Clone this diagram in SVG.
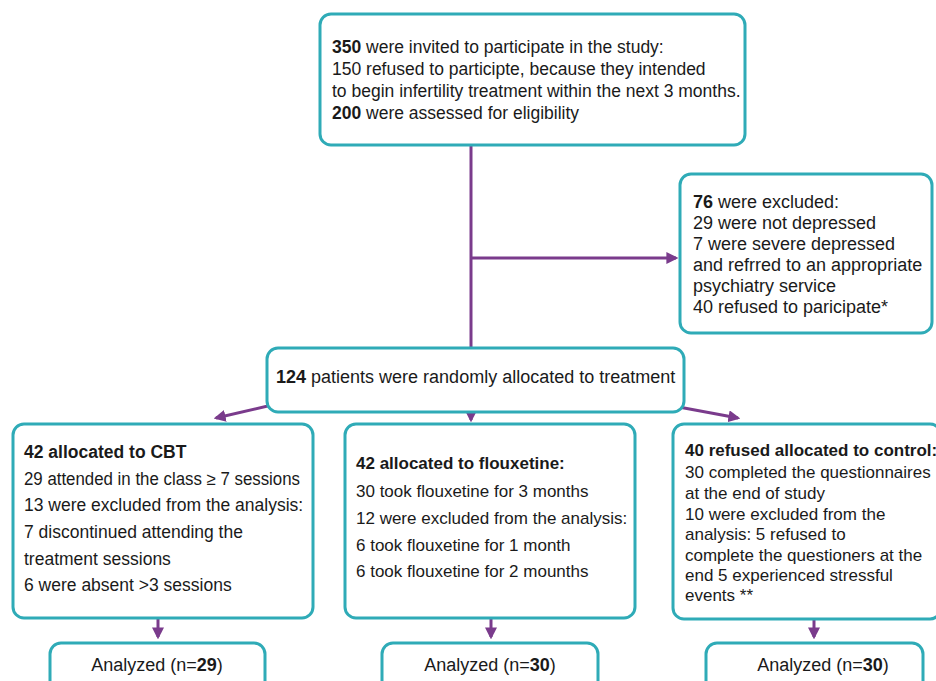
<svg xmlns="http://www.w3.org/2000/svg" width="936" height="681" viewBox="0 0 936 681">
<defs>
<style>
.box{fill:#ffffff;stroke:#2fabb7;stroke-width:3}
.t{font-family:"Liberation Sans",Arial,sans-serif;font-size:17.5px;fill:#1a1a1a}
.s18{font-size:18px}
.s17{font-size:17px}
.b{font-weight:bold}
.c{fill:none;stroke:#7a3b8c;stroke-width:3}
</style>
<marker id="ah" viewBox="0 0 10 10" refX="8" refY="5" markerWidth="4" markerHeight="4" orient="auto" markerUnits="strokeWidth">
<path d="M0,0 L10,5 L0,10 z" fill="#7a3b8c"/>
</marker>
</defs>
<rect width="936" height="681" fill="#ffffff"/>
<g id="connectors">
<path class="c" d="M471,145 V348"/>
<path class="c" d="M471,258 H676" marker-end="url(#ah)"/>
<path class="c" d="M272,405 L216,418" marker-end="url(#ah)"/>
<path class="c" d="M471,412 V420" marker-end="url(#ah)"/>
<path class="c" d="M668,405 L738,418" marker-end="url(#ah)"/>
<path class="c" d="M158,618 V637" marker-end="url(#ah)"/>
<path class="c" d="M491,618 V637" marker-end="url(#ah)"/>
<path class="c" d="M814,619 V637" marker-end="url(#ah)"/>
</g>
<g id="n_invited">
<rect class="box" x="320" y="14" width="425" height="131" rx="11"/>
<text class="t" x="332" y="53"><tspan class="b">350</tspan> were invited to participate in the study:</text>
<text class="t" x="332" y="75">150 refused to participte, because they intended</text>
<text class="t" x="332" y="97">to begin infertility treatment within the next 3 months.</text>
<text class="t" x="332" y="119"><tspan class="b">200</tspan> were assessed for eligibility</text>
</g>
<g id="n_excluded">
<rect class="box" x="680" y="174" width="252" height="159" rx="11"/>
<text class="t s18" x="693" y="208"><tspan class="b">76</tspan> were excluded:</text>
<text class="t s18" x="693" y="229">29 were not depressed</text>
<text class="t s18" x="693" y="250">7 were severe depressed</text>
<text class="t s18" x="693" y="271">and refrred to an appropriate</text>
<text class="t s18" x="693" y="292">psychiatry service</text>
<text class="t s18" x="693" y="313">40 refused to paricipate*</text>
</g>
<g id="n_random">
<rect class="box" x="267" y="348" width="417" height="64" rx="11"/>
<text class="t s18" x="276" y="383"><tspan class="b">124</tspan> patients were randomly allocated to treatment</text>
</g>
<g id="n_cbt">
<rect class="box" x="13" y="424" width="300" height="194" rx="11"/>
<text class="t b" x="24" y="458">42 allocated to CBT</text>
<text class="t" x="24" y="485" textLength="276" lengthAdjust="spacingAndGlyphs">29 attended in the class ≥ 7 sessions</text>
<text class="t" x="24" y="511">13 were excluded from the analysis:</text>
<text class="t" x="24" y="538">7 discontinued attending the</text>
<text class="t" x="24" y="565">treatment sessions</text>
<text class="t" x="24" y="591">6 were absent &gt;3 sessions</text>
</g>
<g id="n_flx">
<rect class="box" x="345" y="424" width="290" height="194" rx="11"/>
<text class="t s17 b" x="356" y="469">42 allocated to flouxetine:</text>
<text class="t s17" x="356" y="497">30 took flouxetine for 3 months</text>
<text class="t s17" x="356" y="524">12 were excluded from the analysis:</text>
<text class="t s17" x="356" y="551">6 took flouxetine for 1 month</text>
<text class="t s17" x="356" y="577">6 took flouxetine for 2 mounths</text>
</g>
<g id="n_ctrl">
<rect class="box" x="673" y="424" width="268" height="195" rx="11"/>
<text class="t s17 b" x="685" y="456">40 refused allocated to control:</text>
<text class="t s17" x="685" y="478">30 completed the questionnaires</text>
<text class="t s17" x="685" y="499">at the end of study</text>
<text class="t s17" x="685" y="520">10 were excluded from the</text>
<text class="t s17" x="685" y="540">analysis: 5 refused to</text>
<text class="t s17" x="685" y="561">complete the questioners at the</text>
<text class="t s17" x="685" y="581">end 5 experienced stressful</text>
<text class="t s17" x="685" y="601">events **</text>
</g>
<g id="n_an1">
<rect class="box" x="50" y="643" width="215" height="50" rx="11"/>
<text class="t s18" x="157" y="671" text-anchor="middle">Analyzed (n=<tspan class="b">29</tspan>)</text>
</g>
<g id="n_an2">
<rect class="box" x="382" y="643" width="216" height="50" rx="11"/>
<text class="t s18" x="490" y="671" text-anchor="middle">Analyzed (n=<tspan class="b">30</tspan>)</text>
</g>
<g id="n_an3">
<rect class="box" x="706" y="643" width="217" height="50" rx="11"/>
<text class="t s18" x="823" y="671" text-anchor="middle">Analyzed (n=<tspan class="b">30</tspan>)</text>
</g>
</svg>
